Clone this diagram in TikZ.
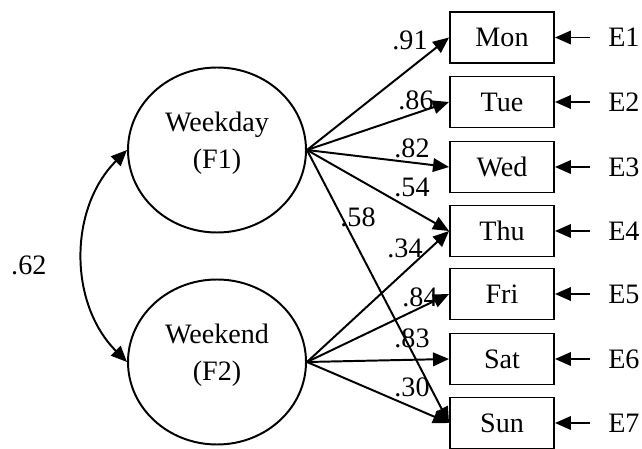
\documentclass[tikz,border=0pt]{standalone}
\usepackage{fontspec}
\setmainfont{Liberation Serif}
\usetikzlibrary{positioning,arrows.meta,shapes.geometric}

\begin{document}
\begin{tikzpicture}[
  font=\fontsize{20}{26}\selectfont,
  factor/.style={draw, ellipse, line width=1.4pt, minimum width=4.45cm, minimum height=4.125cm, inner sep=0pt},
  item/.style={draw, rectangle, line width=1.4pt, minimum width=2.6cm, minimum height=1.275cm, inner sep=2pt},
  err/.style={inner sep=0pt, anchor=west},
  arr/.style={-{Triangle[length=0.4cm,width=0.34cm]}, line width=1.4pt},
  corr/.style={{Triangle[length=0.4cm,width=0.34cm]}-{Triangle[length=0.4cm,width=0.34cm]}, line width=1.4pt},
  lbl/.style={inner sep=1pt},
]
  \useasboundingbox (0,0) rectangle (16.05,11.2);

  % latent factors
  \node[factor] (f1) at (5.425,7.45) {\raisebox{0.18cm}[\height][\depth]{\begin{tabular}{@{}c@{}}Weekday\\(F1)\end{tabular}}};
  \node[factor] (f2) at (5.425,2.15) {\raisebox{0.18cm}[\height][\depth]{\begin{tabular}{@{}c@{}}Weekend\\(F2)\end{tabular}}};

  % observed days
  \node[item] (mon) at (12.55,10.2625) {Mon};
  \node[item] (tue) at (12.55,8.65) {Tue};
  \node[item] (wed) at (12.55,7.025) {Wed};
  \node[item] (thu) at (12.55,5.425) {Thu};
  \node[item] (fri) at (12.55,3.85) {Fri};
  \node[item] (sat) at (12.55,2.225) {Sat};
  \node[item] (sun) at (12.55,0.625) {Sun};

  % error terms
  \node[err] (e1) at (15.2,10.2625) {E1};
  \node[err] (e2) at (15.2,8.65) {E2};
  \node[err] (e3) at (15.2,7.025) {E3};
  \node[err] (e4) at (15.2,5.425) {E4};
  \node[err] (e5) at (15.2,3.85) {E5};
  \node[err] (e6) at (15.2,2.225) {E6};
  \node[err] (e7) at (15.2,0.625) {E7};

  \draw[arr, shorten <=0.45cm] (e1.west) -- (mon.east);
  \draw[arr, shorten <=0.45cm] (e2.west) -- (tue.east);
  \draw[arr, shorten <=0.45cm] (e3.west) -- (wed.east);
  \draw[arr, shorten <=0.45cm] (e4.west) -- (thu.east);
  \draw[arr, shorten <=0.45cm] (e5.west) -- (fri.east);
  \draw[arr, shorten <=0.45cm] (e6.west) -- (sat.east);
  \draw[arr, shorten <=0.45cm] (e7.west) -- (sun.east);

  % loadings
  \draw[arr] (f1.east) -- (mon.west);
  \draw[arr] (f1.east) -- (tue.west);
  \draw[arr] (f1.east) -- (wed.west);
  \draw[arr] (f1.east) -- (thu.west);
  \draw[arr] (f1.east) -- (sun.west);
  \draw[arr] (f2.east) -- (thu.west);
  \draw[arr] (f2.east) -- (fri.west);
  \draw[arr] (f2.east) -- (sat.west);
  \draw[arr] (f2.east) -- (sun.west);

  \node[lbl] (l91) at (10.25,10.2) {.91};
  \node[lbl] (l86) at (10.4,8.7) {.86};
  \node[lbl] (l82) at (10.3,7.5) {.82};
  \node[lbl] (l54) at (10.3,6.525) {.54};
  \node[lbl] (l58) at (8.95,5.775) {.58};
  \node[lbl] (l34) at (10.125,5.0) {.34};
  \node[lbl] (l84) at (10.5,3.775) {.84};
  \node[lbl] (l83) at (10.3,2.75) {.83};
  \node[lbl] (l30) at (10.3,1.525) {.30};

  % factor correlation
  \draw[corr] (f1.west) to[out=225, in=135] (f2.west);
  \node[lbl] (l62) at (0.72,4.575) {.62};
\end{tikzpicture}
\end{document}
